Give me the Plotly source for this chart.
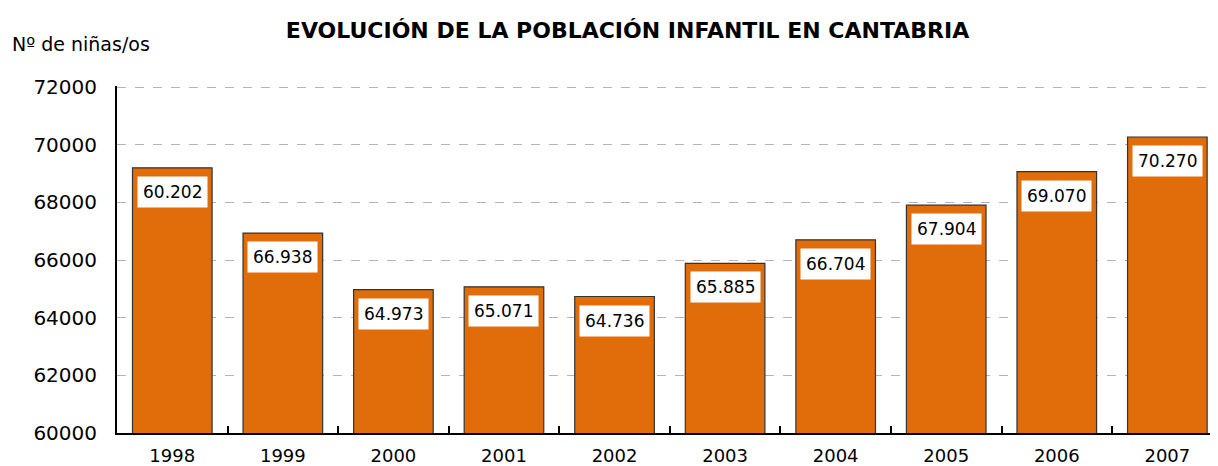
import plotly.graph_objects as go

years = ["1998", "1999", "2000", "2001", "2002", "2003", "2004", "2005", "2006", "2007"]
values = [69202, 66938, 64973, 65071, 64736, 65885, 66704, 67904, 69070, 70270]
labels = ["60.202", "66.938", "64.973", "65.071", "64.736", "65.885", "66.704", "67.904", "69.070", "70.270"]
y_ticks = [60000, 62000, 64000, 66000, 68000, 70000, 72000]

FONT = "DejaVu Sans"
fig = go.Figure()
fig.add_trace(go.Bar(
    x=list(range(len(years))), y=values, width=0.72,
    marker=dict(color="#E06C0A", line=dict(color="#333333", width=1.2)),
    hoverinfo="skip",
))
for i, (v, lab) in enumerate(zip(values, labels)):
    fig.add_annotation(x=i, y=v, text=lab, showarrow=False, yanchor="top", yshift=-8,
                       bgcolor="white", font=dict(family=FONT, size=17, color="black"),
                       borderpad=5)

# page body has an 8px margin, so the figure is sized/offset accordingly
fig.update_layout(
    width=1210, height=458,
    margin=dict(l=109, r=2, t=78, b=33, autoexpand=False),
    paper_bgcolor="white", plot_bgcolor="white",
    showlegend=False,
    title=dict(text="<b>EVOLUCIÓN DE LA POBLACIÓN INFANTIL EN CANTABRIA</b>", x=0.512, xanchor="center",
               y=(458 - 22) / 458, yanchor="middle", pad=dict(t=0),
               font=dict(family=FONT, size=22, color="black")),
    font=dict(family=FONT, color="black"),
)
fig.add_annotation(xref="paper", yref="paper", x=-0.097, y=1.0, yshift=42, xanchor="left", yanchor="middle",
                   text="Nº de niñas/os", showarrow=False, font=dict(family=FONT, size=19, color="black"))
fig.update_xaxes(range=[-0.5, 9.44], showline=True, linecolor="black", linewidth=2,
                 tickvals=list(range(len(years))), ticktext=years,
                 showgrid=False, tickfont=dict(family=FONT, size=18), ticks="", automargin=False,
                 ticklabelstandoff=5, zeroline=False,
                 minor=dict(tickvals=[i + 0.5 for i in range(len(years) - 1)], ticks="inside",
                            ticklen=7, tickcolor="black", tickwidth=2, showgrid=False))
fig.update_yaxes(range=[60000, 72040], tickvals=y_ticks, tickformat="d", showline=True, linecolor="black", linewidth=2,
                 showgrid=True, gridcolor="#b4b4b4", griddash="dash", gridwidth=1, automargin=False,
                 tickfont=dict(family=FONT, size=20), ticks="", ticklabelstandoff=14, zeroline=False)
fig.write_html("out.html")
